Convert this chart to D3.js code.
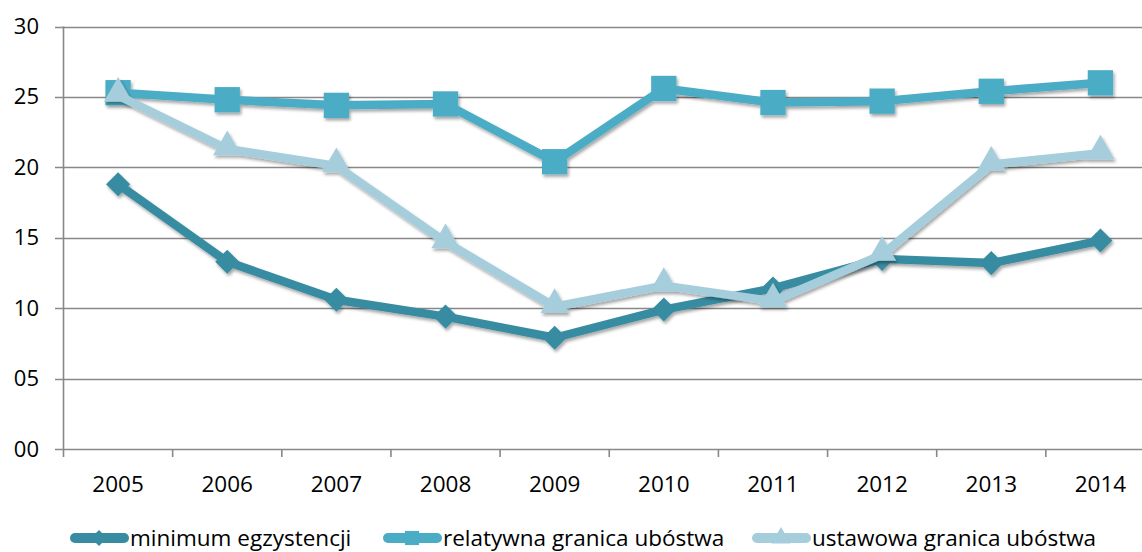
<!DOCTYPE html>
<html>
<head>
<meta charset="utf-8">
<script src="https://cdn.jsdelivr.net/npm/d3@7"></script>
<style>
  body { margin: 0; background: #fff; }
  svg { display: block; font-family: "Open Sans", Lato, sans-serif; }
</style>
</head>
<body>
<svg id="chart" width="1142" height="552"></svg>
<script>
// Data
const years = ["2005", "2006", "2007", "2008", "2009", "2010", "2011", "2012", "2013", "2014"];
const minimumEgzystencji = [18.8, 13.3, 10.6, 9.4, 7.9, 9.9, 11.4, 13.5, 13.2, 14.8];
const relatywnaGranica = [25.3, 24.8, 24.4, 24.5, 20.4, 25.6, 24.6, 24.7, 25.4, 26.0];
const ustawowaGranica = [25.1, 21.3, 20.1, 14.7, 10.1, 11.6, 10.5, 13.8, 20.2, 21.0];
const yTicks = [0, 5, 10, 15, 20, 25, 30];

const series = [
  { name: "minimum egzystencji", values: minimumEgzystencji, color: "#378ca1", symbol: "diamond" },
  { name: "relatywna granica ubóstwa", values: relatywnaGranica, color: "#4bacc6", symbol: "square" },
  { name: "ustawowa granica ubóstwa", values: ustawowaGranica, color: "#a5cddb", symbol: "triangle" }
];

const svg = d3.select("#chart");

// plot area (right edge runs past the visible image, as in the reference)
const plotLeft = 63.5, plotRight = 1155, plotTop = 26.5, plotBottom = 449;

const x = d3.scaleBand().domain(years).range([plotLeft, plotRight]);
const y = d3.scaleLinear().domain([0, 30]).range([plotBottom, plotTop]);

// shadow for lines and markers
const defs = svg.append("defs");
const shadow = defs.append("filter").attr("id", "shadow")
  .attr("x", "-30%").attr("y", "-30%").attr("width", "160%").attr("height", "160%");
shadow.append("feDropShadow")
  .attr("dx", 1.5).attr("dy", 2.5).attr("stdDeviation", 1.8)
  .attr("flood-color", "#000").attr("flood-opacity", 0.35);

// Gridlines
svg.append("g")
  .selectAll("line")
  .data(yTicks)
  .join("line")
  .attr("x1", 55)
  .attr("x2", 1142)
  .attr("y1", d => Math.round(y(d)) + 0.5)
  .attr("y2", d => Math.round(y(d)) + 0.5)
  .attr("stroke", "#888")
  .attr("stroke-width", 1.6);

// Y axis line
svg.append("line")
  .attr("x1", plotLeft).attr("x2", plotLeft)
  .attr("y1", plotTop).attr("y2", plotBottom)
  .attr("stroke", "#888")
  .attr("stroke-width", 1.6);

// X ticks between categories
const xTickPos = years.map((d, i) => plotLeft + i * x.step()).concat([plotRight]);
svg.append("g")
  .selectAll("line")
  .data(xTickPos)
  .join("line")
  .attr("x1", d => d).attr("x2", d => d)
  .attr("y1", plotBottom).attr("y2", plotBottom + 8)
  .attr("stroke", "#888")
  .attr("stroke-width", 1.6);

// Y labels
svg.append("g")
  .selectAll("text")
  .data(yTicks)
  .join("text")
  .attr("x", 39)
  .attr("y", d => y(d) + 7.5)
  .attr("text-anchor", "end")
  .attr("font-size", 22)
  .attr("fill", "#000")
  .text(d3.format("02d"));

// X labels
svg.append("g")
  .selectAll("text")
  .data(years)
  .join("text")
  .attr("x", d => x(d) + x.bandwidth() / 2)
  .attr("y", 492)
  .attr("text-anchor", "middle")
  .attr("font-size", 22.5)
  .attr("fill", "#000")
  .text(d => d);

const line = d3.line()
  .x((d, i) => x(years[i]) + x.bandwidth() / 2)
  .y(d => y(d));

const symbolType = {
  diamond: d3.symbol().type(d3.symbolDiamond2).size(370),
  square: d3.symbol().type(d3.symbolSquare).size(640),
  triangle: d3.symbol().type(d3.symbolTriangle).size(350)
};

// Series
series.forEach(s => {
  const g = svg.append("g").attr("filter", "url(#shadow)");
  g.append("path")
    .datum(s.values)
    .attr("fill", "none")
    .attr("stroke", s.color)
    .attr("stroke-width", 8.5)
    .attr("stroke-linejoin", "round")
    .attr("d", line);

  g.selectAll("path.marker")
    .data(s.values)
    .join("path")
    .attr("class", "marker")
    .attr("transform", (d, i) =>
      `translate(${x(years[i]) + x.bandwidth() / 2},${y(d) - (s.symbol === "triangle" ? 2 : 0)})`)
    .attr("d", symbolType[s.symbol]())
    .attr("fill", s.color);
});

// Legend
const legendX = [70, 383, 752];
const legend = svg.append("g")
  .selectAll("g")
  .data(series)
  .join("g")
  .attr("transform", (d, i) => `translate(${legendX[i]},538)`);

legend.append("line")
  .attr("x1", 5).attr("x2", 54)
  .attr("stroke", d => d.color)
  .attr("stroke-width", 10)
  .attr("stroke-linecap", "round");

legend.append("path")
  .attr("transform", "translate(29,0)")
  .attr("d", d => d3.symbol().type(
    d.symbol === "diamond" ? d3.symbolDiamond2 : d.symbol === "square" ? d3.symbolSquare : d3.symbolTriangle
  ).size(d.symbol === "square" ? 200 : 160)())
  .attr("fill", d => d.color);

legend.append("text")
  .attr("x", 60)
  .attr("y", 7.5)
  .attr("font-size", 22.5)
  .attr("fill", "#000")
  .text(d => d.name);
</script>
</body>
</html>
